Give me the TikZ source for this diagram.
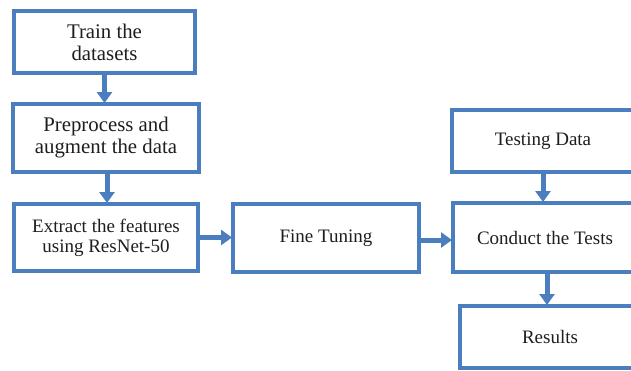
\documentclass[tikz,border=0pt]{standalone}
\usepackage{fontspec}
\setmainfont{Liberation Serif}
\usetikzlibrary{arrows.meta}
\definecolor{boxblue}{RGB}{74,126,190}
\definecolor{txt}{RGB}{30,30,30}
\tikzset{
  stepbox/.style={draw=boxblue, line width=4pt, fill=white, align=center,
    text=txt, font=\fontsize{19}{21}\selectfont, inner sep=0pt},
  bigtext/.style={font=\fontsize{20.8}{22}\selectfont},
  flow/.style={draw=boxblue, line width=5pt,
    -{Triangle[width=15pt,length=11pt]}, shorten >=-1pt}
}
\begin{document}
\begin{tikzpicture}[x=1pt,y=-1pt]
\useasboundingbox (0,0) rectangle (631,370);
\node[stepbox, bigtext, minimum width=181pt, minimum height=62pt] (train) at (104.5,42) {Train the\\datasets};
\node[stepbox, bigtext, minimum width=186pt, minimum height=68pt] (prep) at (106,138) {Preprocess and\\augment the data};
\node[stepbox, minimum width=184pt, minimum height=67pt, font=\fontsize{19}{20}\selectfont] (extract) at (106,237.5) {Extract the features\\using ResNet-50};
\node[stepbox, minimum width=186pt, minimum height=68pt] (fine) at (326,238) {Fine Tuning};
\node[stepbox, minimum width=182pt, minimum height=62pt] (testing) at (543,141) {Testing Data};
\node[stepbox, minimum width=184pt, minimum height=69pt] (conduct) at (545,237.5) {Conduct the Tests};
\node[stepbox, minimum width=180pt, minimum height=62pt] (results) at (550,337) {Results};
\draw[flow] (train.south) -- (train.south |- prep.north);
\draw[flow] ([xshift=1pt]prep.south) -- ([xshift=1pt]prep.south |- extract.north);
\draw[flow] (extract.east) -- (extract.east -| fine.west);
\draw[flow] ([yshift=-2pt]fine.east) -- ([yshift=-2pt]fine.east -| conduct.west);
\draw[flow] (testing.south) -- (testing.south |- conduct.north);
\draw[flow] ([xshift=2pt]conduct.south) -- ([xshift=2pt]conduct.south |- results.north);
\end{tikzpicture}
\end{document}
